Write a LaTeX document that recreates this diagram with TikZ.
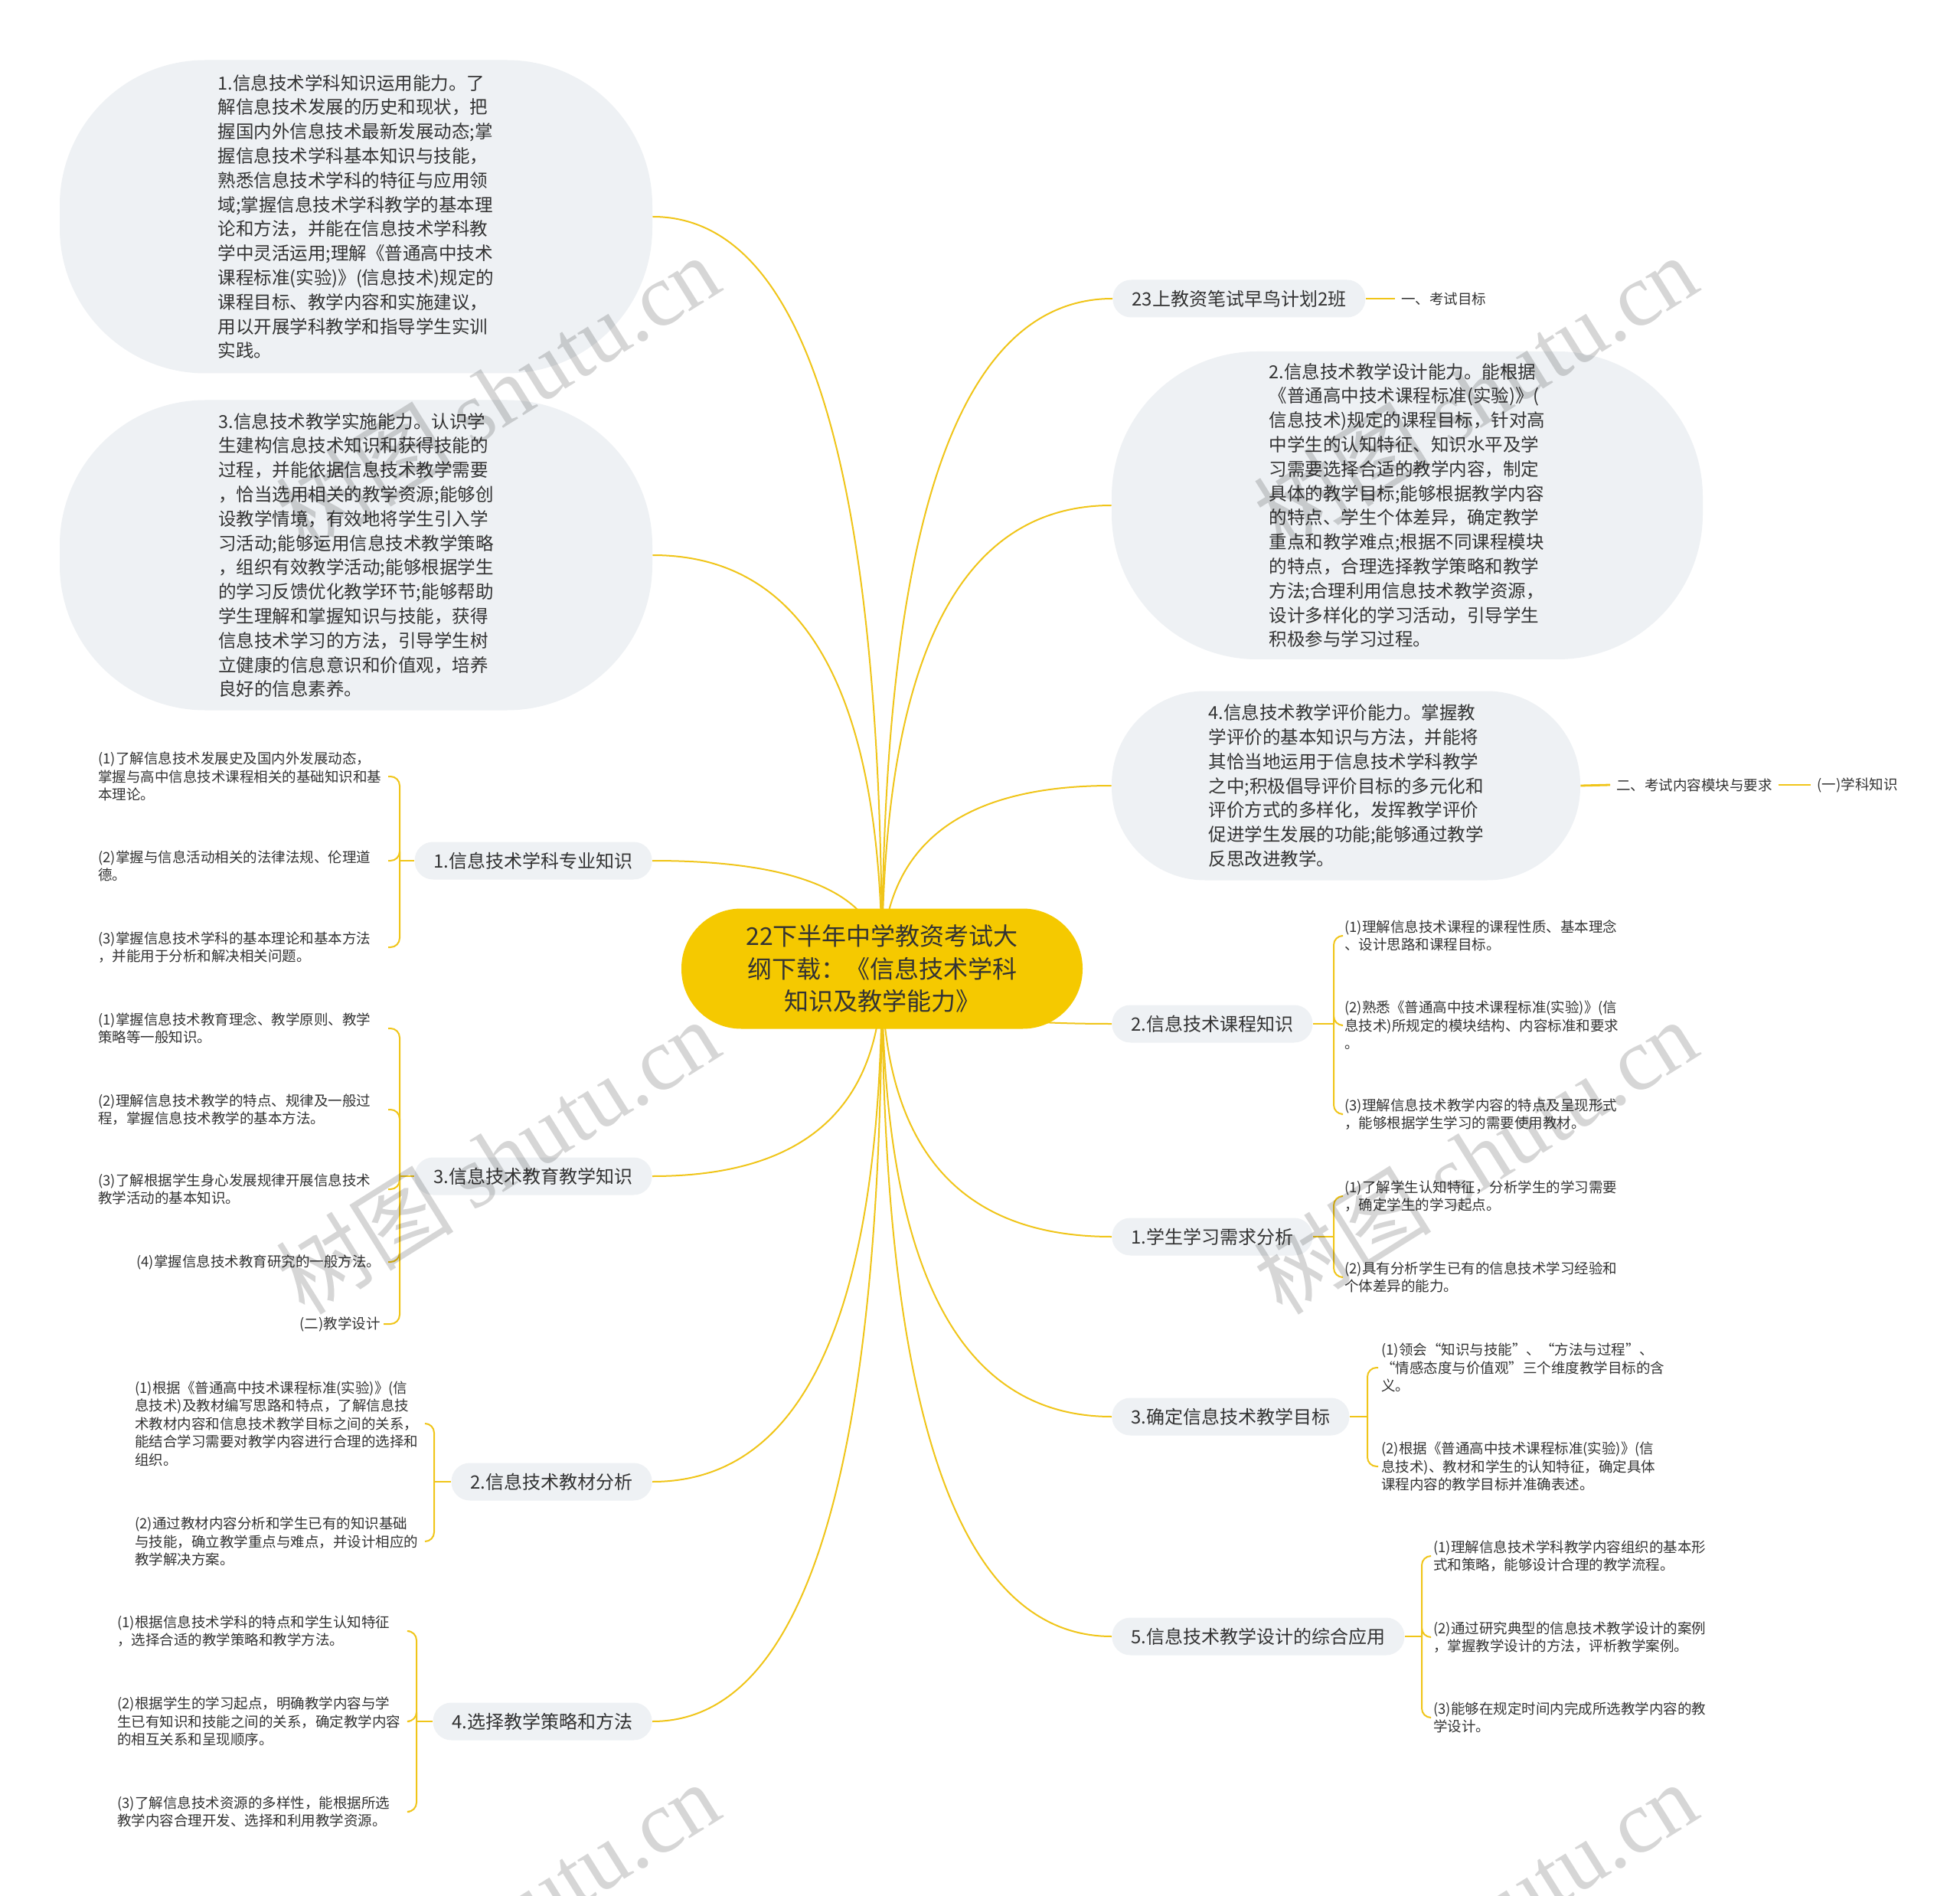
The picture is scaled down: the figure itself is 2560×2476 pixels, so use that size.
\documentclass[tikz,border=0pt]{standalone}
\usepackage{fontspec}
\setmainfont{Noto Sans CJK SC}
\newfontfamily\markfont{Liberation Serif}
\usetikzlibrary{calc,backgrounds,positioning}
\definecolor{rootyellow}{HTML}{F5C900}
\definecolor{linkyellow}{HTML}{F0C519}
\definecolor{boxgray}{HTML}{EEF1F4}
\definecolor{inkgray}{HTML}{333333}
\tikzset{
  rootnode/.style={fill=rootyellow, rounded corners=39pt, minimum width=262pt, minimum height=78.5pt, inner sep=0pt, align=center, text=inkgray, font=\fontsize{16}{21.25}\selectfont},
  pillnode/.style={fill=boxgray, rounded corners=12pt, minimum height=24.5pt, inner xsep=12.5pt, inner ysep=0pt, text=inkgray, font=\fontsize{12}{15}\selectfont},
  blobnode/.style={fill=boxgray, inner sep=0pt, align=left, text=inkgray, font=\fontsize{11.75}{15.9}\selectfont},
  leafnode/.style={inner sep=2pt, align=left, text=inkgray, font=\fontsize{9.25}{11.75}\selectfont},
  tagnode/.style={inner xsep=4pt, inner ysep=2pt, text=inkgray, font=\fontsize{9.25}{11.75}\selectfont},
  rootlink/.style={draw=linkyellow, line width=1pt,
    to path={.. controls ($(\tikztostart)!0.667!(\tikztostart |- \tikztotarget)$) and ($(\tikztotarget)!0.667!(\tikztostart |- \tikztotarget)$) .. (\tikztotarget)}},
  bracelink/.style={draw=linkyellow, line width=1pt, rounded corners=6pt},
  taglink/.style={draw=linkyellow, line width=1.4pt},
  watermark/.style={text=black, opacity=0.16, inner sep=0pt, rotate=32, font=\fontsize{58}{58}\selectfont},
}
\begin{document}
\begin{tikzpicture}[x=0.5pt, y=-0.5pt]
\useasboundingbox (0,0) rectangle (2560,2476);

% centre
\node[rootnode] (root) at (1152,1265) {22下半年中学教资考试大\\纲下载：《信息技术学科\\知识及教学能力》};

% left side
\node[blobnode, minimum width=387pt, minimum height=204.5pt, rounded corners=95pt] (skillblob) at (465,283) {1.信息技术学科知识运用能力。了\\解信息技术发展的历史和现状，把\\握国内外信息技术最新发展动态;掌\\握信息技术学科基本知识与技能，\\熟悉信息技术学科的特征与应用领\\域;掌握信息技术学科教学的基本理\\论和方法，并能在信息技术学科教\\学中灵活运用;理解《普通高中技术\\课程标准(实验)》(信息技术)规定的\\课程目标、教学内容和实施建议，\\用以开展学科教学和指导学生实训\\实践。};
\node[blobnode, minimum width=387pt, minimum height=202.5pt, rounded corners=95pt] (doblob) at (465,725) {3.信息技术教学实施能力。认识学\\生建构信息技术知识和获得技能的\\过程，并能依据信息技术教学需要\\，恰当选用相关的教学资源;能够创\\设教学情境，有效地将学生引入学\\习活动;能够运用信息技术教学策略\\，组织有效教学活动;能够根据学生\\的学习反馈优化教学环节;能够帮助\\学生理解和掌握知识与技能，获得\\信息技术学习的方法，引导学生树\\立健康的信息意识和价值观，培养\\良好的信息素养。};

\node[pillnode, anchor=east] (knowpill) at (852,1124) {1.信息技术学科专业知识};
\node[pillnode, anchor=east] (teachpill) at (852,1536) {3.信息技术教育教学知识};
\node[pillnode, anchor=east] (bookpill) at (852,1935) {2.信息技术教材分析};
\node[pillnode, anchor=east] (methodpill) at (852,2248) {4.选择教学策略和方法};

\node[leafnode, anchor=west] (knowa) at (124,1014) {(1)了解信息技术发展史及国内外发展动态，\\掌握与高中信息技术课程相关的基础知识和基\\本理论。};
\node[leafnode, anchor=west] (knowb) at (124,1131) {(2)掌握与信息活动相关的法律法规、伦理道\\德。};
\node[leafnode, anchor=west] (knowc) at (124,1237) {(3)掌握信息技术学科的基本理论和基本方法\\，并能用于分析和解决相关问题。};

\node[leafnode, anchor=west] (teacha) at (124,1343) {(1)掌握信息技术教育理念、教学原则、教学\\策略等一般知识。};
\node[leafnode, anchor=west] (teachb) at (124,1449) {(2)理解信息技术教学的特点、规律及一般过\\程，掌握信息技术教学的基本方法。};
\node[leafnode, anchor=west] (teachc) at (124,1553) {(3)了解根据学生身心发展规律开展信息技术\\教学活动的基本知识。};
\node[leafnode, anchor=west] (teachd) at (174,1648) {(4)掌握信息技术教育研究的一般方法。};
\node[leafnode, anchor=east] (teache) at (501,1729) {(二)教学设计};

\node[leafnode, anchor=west] (booka) at (172,1859) {(1)根据《普通高中技术课程标准(实验)》(信\\息技术)及教材编写思路和特点，了解信息技\\术教材内容和信息技术教学目标之间的关系，\\能结合学习需要对教学内容进行合理的选择和\\组织。};
\node[leafnode, anchor=west] (bookb) at (172,2013) {(2)通过教材内容分析和学生已有的知识基础\\与技能，确立教学重点与难点，并设计相应的\\教学解决方案。};

\node[leafnode, anchor=west] (methoda) at (149,2130) {(1)根据信息技术学科的特点和学生认知特征\\，选择合适的教学策略和教学方法。};
\node[leafnode, anchor=west] (methodb) at (149,2248) {(2)根据学生的学习起点，明确教学内容与学\\生已有知识和技能之间的关系，确定教学内容\\的相互关系和呈现顺序。};
\node[leafnode, anchor=west] (methodc) at (149,2366) {(3)了解信息技术资源的多样性，能根据所选\\教学内容合理开发、选择和利用教学资源。};

% right side
\node[pillnode, anchor=west] (goalpill) at (1453,390) {23上教资笔试早鸟计划2班};
\node[tagnode, anchor=west] (goaltag) at (1822,390) {一、考试目标};

\node[blobnode, minimum width=386pt, minimum height=201pt, rounded corners=95pt] (designblob) at (1838,660) {2.信息技术教学设计能力。能根据\\《普通高中技术课程标准(实验)》(\\信息技术)规定的课程目标，针对高\\中学生的认知特征、知识水平及学\\习需要选择合适的教学内容，制定\\具体的教学目标;能够根据教学内容\\的特点、学生个体差异，确定教学\\重点和教学难点;根据不同课程模块\\的特点，合理选择教学策略和教学\\方法;合理利用信息技术教学资源，\\设计多样化的学习活动，引导学生\\积极参与学习过程。};
\node[blobnode, minimum width=306pt, minimum height=123.5pt, rounded corners=61pt] (judgeblob) at (1758,1026) {4.信息技术教学评价能力。掌握教\\学评价的基本知识与方法，并能将\\其恰当地运用于信息技术学科教学\\之中;积极倡导评价目标的多元化和\\评价方式的多样化，发挥教学评价\\促进学生发展的功能;能够通过教学\\反思改进教学。};
\node[tagnode, anchor=west] (parttag) at (2103,1025) {二、考试内容模块与要求};
\node[tagnode, right=21pt of parttag] (subjtag) {(一)学科知识};

\node[pillnode, anchor=west] (coursepill) at (1452,1337) {2.信息技术课程知识};
\node[pillnode, anchor=west] (needpill) at (1452,1615) {1.学生学习需求分析};
\node[pillnode, anchor=west] (aimpill) at (1452,1850) {3.确定信息技术教学目标};
\node[pillnode, anchor=west] (usepill) at (1452,2137) {5.信息技术教学设计的综合应用};

\node[leafnode, anchor=west] (coursea) at (1752,1222) {(1)理解信息技术课程的课程性质、基本理念\\、设计思路和课程目标。};
\node[leafnode, anchor=west] (courseb) at (1752,1339) {(2)熟悉《普通高中技术课程标准(实验)》(信\\息技术)所规定的模块结构、内容标准和要求\\。};
\node[leafnode, anchor=west] (coursec) at (1752,1455) {(3)理解信息技术教学内容的特点及呈现形式\\，能够根据学生学习的需要使用教材。};

\node[leafnode, anchor=west] (needa) at (1752,1562) {(1)了解学生认知特征，分析学生的学习需要\\，确定学生的学习起点。};
\node[leafnode, anchor=west] (needb) at (1752,1668) {(2)具有分析学生已有的信息技术学习经验和\\个体差异的能力。};

\node[leafnode, anchor=west] (aima) at (1800,1786) {(1)领会“知识与技能”、“方法与过程”、\\“情感态度与价值观”三个维度教学目标的含\\义。};
\node[leafnode, anchor=west] (aimb) at (1800,1915) {(2)根据《普通高中技术课程标准(实验)》(信\\息技术)、教材和学生的认知特征，确定具体\\课程内容的教学目标并准确表述。};

\node[leafnode, anchor=west] (usea) at (1868,2032) {(1)理解信息技术学科教学内容组织的基本形\\式和策略，能够设计合理的教学流程。};
\node[leafnode, anchor=west] (useb) at (1868,2138) {(2)通过研究典型的信息技术教学设计的案例\\，掌握教学设计的方法，评析教学案例。};
\node[leafnode, anchor=west] (usec) at (1868,2243) {(3)能够在规定时间内完成所选教学内容的教\\学设计。};

\coordinate (knowjoint) at (522,1124);
\coordinate (teachjoint) at (522,1536);
\coordinate (bookjoint) at (567,1935);
\coordinate (methodjoint) at (544,2248);
\coordinate (coursejoint) at (1742,1337);
\coordinate (needjoint) at (1742,1615);
\coordinate (aimjoint) at (1786,1850);
\coordinate (usejoint) at (1857,2137);
% bracket ends on the left
\coordinate (knowaend) at (507,1014);
\coordinate (knowbend) at (507,1124);
\coordinate (knowcend) at (507,1237);
\coordinate (teachaend) at (507,1343);
\coordinate (teachbend) at (507,1449);
\coordinate (teachcend) at (507,1553);
\coordinate (teachdend) at (507,1648);
\coordinate (bookaend) at (555,1859);
\coordinate (bookbend) at (555,2013);
\coordinate (methodaend) at (535,2130);
\coordinate (methodbend) at (535,2248);
\coordinate (methodcend) at (535,2366);

\begin{scope}[on background layer]
\fill[white] (0,0) rectangle (2560,2476);
% branches from the centre
\draw[rootlink] (root.center) to (skillblob.east);
\draw[rootlink] (root.center) to (doblob.east);
\draw[rootlink] (root.center) to (knowpill.east);
\draw[rootlink] (root.center) to (teachpill.east);
\draw[rootlink] (root.center) to (bookpill.east);
\draw[rootlink] (root.center) to (methodpill.east);
\draw[rootlink] (root.center) to (goalpill.west);
\draw[rootlink] (root.center) to (designblob.west);
\draw[rootlink] (root.center) to (judgeblob.west);
\draw[rootlink] (root.center) to (coursepill.west);
\draw[rootlink] (root.center) to (needpill.west);
\draw[rootlink] (root.center) to (aimpill.west);
\draw[rootlink] (root.center) to (usepill.west);
% brackets
\draw[bracelink] (knowpill.west) -- (knowjoint);
\draw[bracelink] (knowjoint) |- (knowaend);
\draw[bracelink] (knowjoint) |- (knowbend);
\draw[bracelink] (knowjoint) |- (knowcend);
\draw[bracelink] (teachpill.west) -- (teachjoint);
\draw[bracelink] (teachjoint) |- (teachaend);
\draw[bracelink] (teachjoint) |- (teachbend);
\draw[bracelink] (teachjoint) |- (teachcend);
\draw[bracelink] (teachjoint) |- (teachdend);
\draw[bracelink] (teachjoint) |- (teache.east);
\draw[bracelink] (bookpill.west) -- (bookjoint);
\draw[bracelink] (bookjoint) |- (bookaend);
\draw[bracelink] (bookjoint) |- (bookbend);
\draw[bracelink] (methodpill.west) -- (methodjoint);
\draw[bracelink] (methodjoint) |- (methodaend);
\draw[bracelink] (methodjoint) |- (methodbend);
\draw[bracelink] (methodjoint) |- (methodcend);
\draw[bracelink] (coursepill.east) -- (coursejoint);
\draw[bracelink] (coursejoint) |- (coursea.west);
\draw[bracelink] (coursejoint) |- (courseb.west);
\draw[bracelink] (coursejoint) |- (coursec.west);
\draw[bracelink] (needpill.east) -- (needjoint);
\draw[bracelink] (needjoint) |- (needa.west);
\draw[bracelink] (needjoint) |- (needb.west);
\draw[bracelink] (aimpill.east) -- (aimjoint);
\draw[bracelink] (aimjoint) |- (aima.west);
\draw[bracelink] (aimjoint) |- (aimb.west);
\draw[bracelink] (usepill.east) -- (usejoint);
\draw[bracelink] (usejoint) |- (usea.west);
\draw[bracelink] (usejoint) |- (useb.west);
\draw[bracelink] (usejoint) |- (usec.west);
% tags
\draw[taglink] (goalpill.east) -- (goaltag.west);
\draw[taglink] (judgeblob.east) -- (parttag.west);
\draw[taglink] (parttag.east) -- (subjtag.west);
\end{scope}

% watermark
\node[watermark] (marka) at (650,512) {树图 {\markfont shutu.cn}};
\node[watermark] (markb) at (650,1510) {树图 {\markfont shutu.cn}};
\node[watermark] (markc) at (650,2506) {树图 {\markfont shutu.cn}};
\node[watermark] (markd) at (1927,512) {树图 {\markfont shutu.cn}};
\node[watermark] (marke) at (1927,1510) {树图 {\markfont shutu.cn}};
\node[watermark] (markf) at (1927,2506) {树图 {\markfont shutu.cn}};
\end{tikzpicture}
\end{document}
